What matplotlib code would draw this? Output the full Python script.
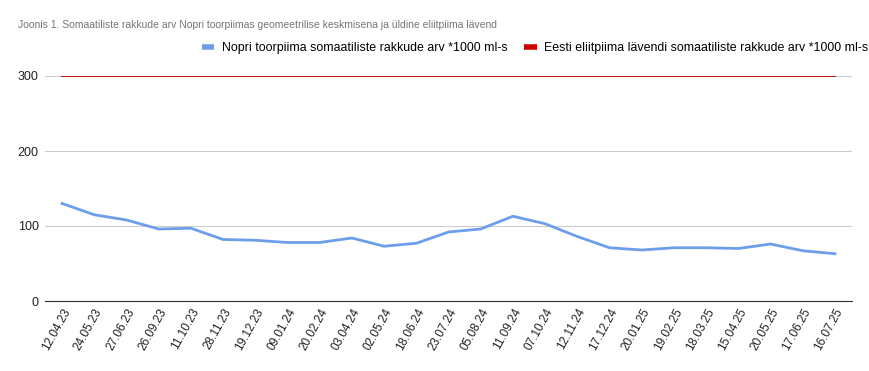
import matplotlib
matplotlib.use("Agg")
import matplotlib.pyplot as plt

plt.rcParams['font.family'] = ['Liberation Sans', 'DejaVu Sans']

dates = ["12.04.23", "24.05.23", "27.06.23", "26.09.23", "11.10.23", "28.11.23", "19.12.23",
         "09.01.24", "20.02.24", "03.04.24", "02.05.24", "18.06.24", "23.07.24", "05.08.24",
         "11.09.24", "07.10.24", "12.11.24", "17.12.24", "20.01.25", "19.02.25", "18.03.25",
         "15.04.25", "20.05.25", "17.06.25", "16.07.25"]
nopri = [130, 115, 108, 96, 97, 82, 81, 78, 78, 84, 73, 77, 92, 96, 113, 103, 86, 71, 68,
         71, 71, 70, 76, 67, 63]
eliit = [300] * len(dates)

title = "Joonis 1. Somaatiliste rakkude arv Nopri toorpiimas geomeetrilise keskmisena ja üldine eliitpiima lävend"
label1 = "Nopri toorpiima somaatiliste rakkude arv *1000 ml-s"
label2 = "Eesti eliitpiima lävendi somaatiliste rakkude arv *1000 ml-s"

fig = plt.figure(figsize=(8.7, 3.71), dpi=100)
ax = fig.add_axes([45/870, 70/371, (852-45)/870, (301-76)/371])

x = list(range(len(dates)))
l1, = ax.plot(x, nopri, color="#6d9eeb", lw=2, label=label1)
l2, = ax.plot(x, eliit, color="#cc0000", lw=1.3, label=label2, zorder=3)

ax.set_xlim(-0.53, len(dates) - 1 + 0.53)
ax.set_ylim(0, 300)
ax.set_yticks([0, 100, 200, 300])
ax.grid(axis='y', color="#cccccc", lw=0.8)
ax.set_axisbelow(True)
for s in ["top", "right", "left"]:
    ax.spines[s].set_visible(False)
ax.spines["bottom"].set_color("#333333")
ax.tick_params(axis='y', length=0, labelsize=9, colors="#222222", pad=4.5)
ax.tick_params(axis='x', length=0, labelsize=8.5, colors="#222222", pad=4)
ax.set_xticks(x)
ax.set_xticklabels(dates, rotation=61, ha='right', rotation_mode='anchor')

fig.text(18/870, 1 - 25/371, title, color="#757575", va='center', ha='left', fontsize=7.5)

leg = fig.legend(handles=[l1, l2], loc='center right', bbox_to_anchor=(877/870, 1 - 48/371),
                 ncol=2, frameon=False, fontsize=8.9, handlelength=1.0, handletextpad=0.6,
                 columnspacing=1.4, borderpad=0.2)
for h in leg.legend_handles:
    h.set_linewidth(4)
    h.set_solid_capstyle('butt')

fig.savefig("out.png", dpi=100)
